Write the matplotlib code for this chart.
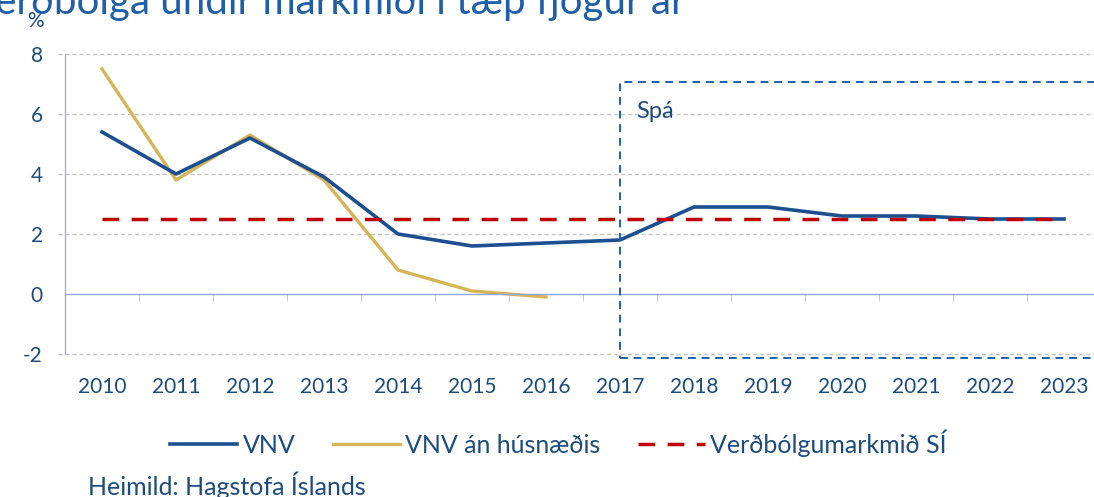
import numpy as np
import matplotlib.pyplot as plt
from matplotlib.patches import Rectangle

plt.rcParams['font.family'] = ['Lato', 'DejaVu Sans']
plt.rcParams['axes.unicode_minus'] = False

years = ['2010', '2011', '2012', '2013', '2014', '2015', '2016',
         '2017', '2018', '2019', '2020', '2021', '2022', '2023']
vnv = [5.4, 4.0, 5.2, 3.9, 2.0, 1.6, 1.7, 1.8, 2.9, 2.9, 2.6, 2.6, 2.5, 2.5]
vnv_an_hus = [7.5, 3.8, 5.3, 3.8, 0.8, 0.1, -0.1]
markmid = [2.5] * len(years)
y_ticks = [-2, 0, 2, 4, 6, 8]

txt = '#1c4c7e'
blue = '#1b4f8f'
gold = '#d6b456'
red = '#c00000'

x = np.arange(len(years))

fig = plt.figure(figsize=(10.94, 4.97), dpi=100)
ax = fig.add_axes([65/1094, 1-354/497, 1-65/1094, 300/497])

# gridlines
for yv in y_ticks:
    if yv == 0:
        continue
    ax.hlines(yv, -0.6, 14, colors='#c4c4c4', lw=1, linestyles=(0, (3, 2)),
              zorder=1, clip_on=False)

ax.plot(x, vnv, color=blue, lw=2.6, zorder=3, label='VNV')
ax.plot(x[:len(vnv_an_hus)], vnv_an_hus, color=gold, lw=2.4, zorder=2,
        label='VNV án húsnæðis')
ax.plot(x, markmid, color=red, lw=2.5, dashes=(4.8, 3.6), zorder=4,
        label='Verðbólgumarkmið SÍ')

# forecast box
ax.add_patch(Rectangle((7, -2.13), 8, 9.2, fill=False, edgecolor='#1f5fa8',
                       lw=1.4, ls=(0, (4, 3)), zorder=5, clip_on=False))
ax.text(7.22, 6.1, 'Spá', color=txt, fontsize=17, va='center', ha='left')

ax.set_xlim(-0.5, -0.5 + (1094-65)/74)
ax.set_ylim(-2, 8)

for s in ['top', 'right']:
    ax.spines[s].set_visible(False)
ax.spines['left'].set_color('#9fb2dd')
ax.spines['left'].set_linewidth(1)
ax.spines['bottom'].set_position(('data', 0))
ax.spines['bottom'].set_color('#8ea6d8')
ax.spines['bottom'].set_linewidth(1)

ax.set_yticks(y_ticks)
ax.tick_params(axis='y', length=0, pad=16, labelsize=15, labelcolor=txt)

ax.set_xticks(x)
ax.set_xticklabels(years)
ax.set_xticks(x[:-1] + 0.5, minor=True)
ax.tick_params(axis='x', which='major', length=0, pad=60, labelsize=15,
               labelcolor=txt)
ax.tick_params(axis='x', which='minor', length=5, color='#bfbfbf',
               direction='out')

fig.text(35/1094, 1-21/497, '%', color=txt, fontsize=15, ha='center',
         va='center')
fig.text(-0.029, 1-14/497, 'Verðbólga undir markmiði í tæp fjögur ár',
         color='#1f5fa8', fontsize=29, ha='left', va='baseline')

fig.legend(loc='center', bbox_to_anchor=(0.5105, 1-443/497), ncol=3,
           frameon=False, fontsize=18, labelcolor=txt, handlelength=2.7,
           handletextpad=0.2, columnspacing=1.5)
fig.text(88/1094, 1-485/497, 'Heimild: Hagstofa Íslands', color=txt,
         fontsize=18, ha='left', va='center')

fig.savefig('out.png', dpi=100)
